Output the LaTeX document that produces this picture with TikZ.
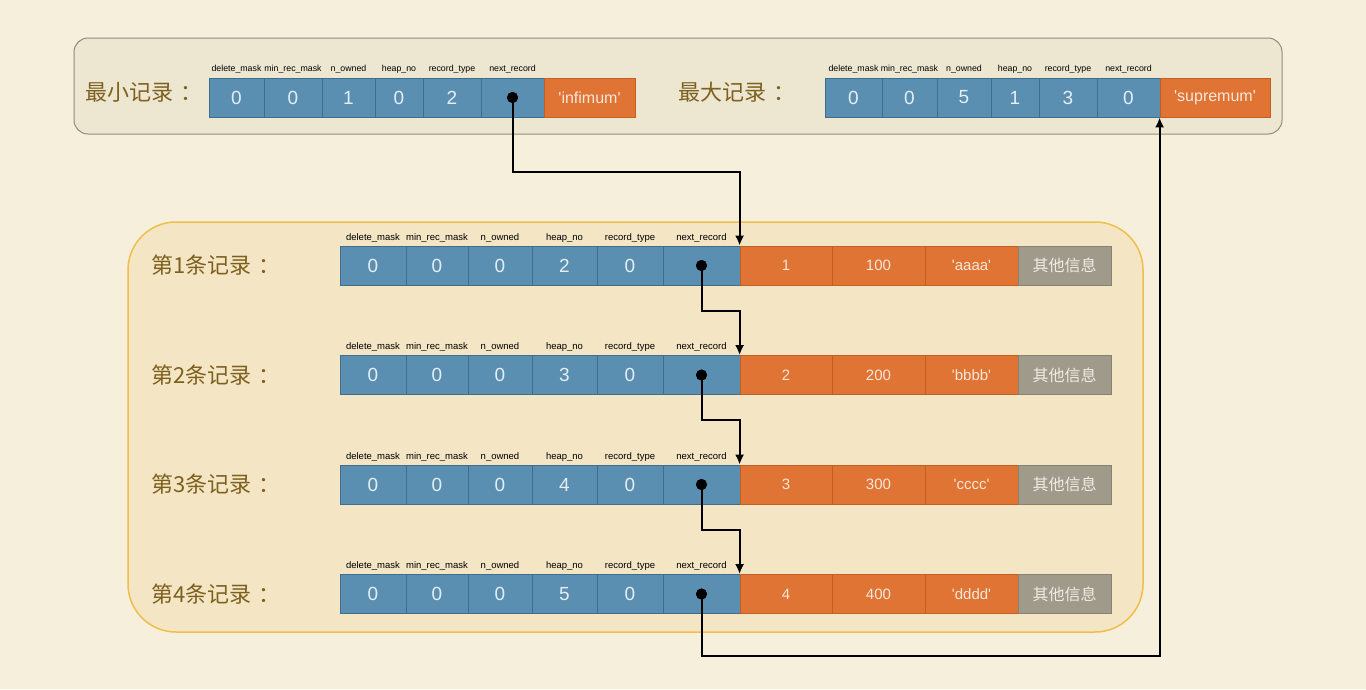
\documentclass[tikz,border=0pt]{standalone}
\usepackage{fontspec}
\setmainfont{Liberation Sans}
\newfontfamily\cjk{Noto Sans CJK SC}
\usetikzlibrary{positioning}
\usetikzlibrary{arrows.meta}

\definecolor{pagebg}{HTML}{F5EFDB}
\definecolor{topbox}{HTML}{EDE7D2}
\definecolor{topline}{HTML}{8F8B80}
\definecolor{lowbox}{HTML}{F4E6C4}
\definecolor{lowline}{HTML}{F0BE4C}
\definecolor{labelbrown}{HTML}{7E601E}
\definecolor{cblue}{HTML}{5A8FB1}
\definecolor{cblueline}{HTML}{3F6E8D}
\definecolor{cbluetext}{HTML}{E6EEF3}
\definecolor{corange}{HTML}{E07434}
\definecolor{corangeline}{HTML}{C45F24}
\definecolor{corangetext}{HTML}{F8E7DA}
\definecolor{cgray}{HTML}{A09A8B}
\definecolor{cgrayline}{HTML}{878272}
\definecolor{cgraytext}{HTML}{F0ECE4}

\newcommand{\sq}{\textquotesingle}
\newcommand{\lcolon}{\hspace{0.35em}：}

\begin{document}
\begin{tikzpicture}[
    x=1pt, y=-1pt,
    >={Latex[length=10pt,width=9pt]},
    lbl/.style={font=\cjk\fontsize{22}{22}\selectfont, text=labelbrown},
    cell/.style={draw, line width=0.8pt, minimum height=39pt, inner sep=0pt},
    bcell/.style={cell, fill=cblue, draw=cblueline, text=cbluetext, font=\fontsize{19}{19}\selectfont},
    ocell/.style={cell, fill=corange, draw=corangeline, text=corangetext, font=\fontsize{15}{15}\selectfont},
    gcell/.style={cell, fill=cgray, draw=cgrayline, text=cgraytext, font=\cjk\fontsize{16}{16}\selectfont},
    hdr/.style={font=\fontsize{9.5}{9.5}\selectfont, inner sep=0pt, text height=7pt, text depth=2pt},
    hdrtop/.style={hdr, font=\fontsize{8.8}{8.8}\selectfont},
    dot/.style={circle, fill=black, inner sep=0pt, minimum size=11pt},
    link/.style={->, line width=2pt}
]
\useasboundingbox[fill=pagebg] (0,0) rectangle (1366,689);

% frames
\draw[fill=topbox, draw=topline, line width=1pt, rounded corners=14pt] (74,38) rectangle (1282,134);
\draw[fill=lowbox, draw=lowline, line width=1.5pt, rounded corners=48pt] (128,222) rectangle (1143,632);

% infimum
\node[lbl] (labmin) at (144,92) {最小记录\lcolon};
\foreach \a/\b/\tx [count=\i] in {209/264/0,264/322/0,322/375/1,375/423/0,423/481/2,481/544/}
  \node[bcell, minimum width={(\b-\a)*1pt}] (i-\i) at ({(\a+\b)/2},97.5) {\tx};
\node[ocell, minimum width=91pt, font=\fontsize{16}{16}\selectfont] (i-7) at (589.5,97.5) {\sq infimum\sq};
\foreach \tx [count=\i] in {delete\_mask,min\_rec\_mask,n\_owned,heap\_no,record\_type,next\_record}
  \node[hdrtop, above=4pt of i-\i] (ih-\i) {\tx};
\node[dot] (d0) at (i-6) {};

% supremum
\node[lbl] (labmax) at (737,92) {最大记录\lcolon};
\foreach \a/\b/\tx [count=\i] in {825/882/0,882/937/0,937/991/5,991/1039/1,1039/1097/3,1097/1160/0}
  \node[bcell, minimum width={(\b-\a)*1pt}] (s-\i) at ({(\a+\b)/2},97.5) {\tx};
\node[ocell, minimum width=110pt, font=\fontsize{16}{16}\selectfont] (s-7) at (1215,97.5) {\sq supremum\sq};
\foreach \tx [count=\i] in {delete\_mask,min\_rec\_mask,n\_owned,heap\_no,record\_type,next\_record}
  \node[hdrtop, above=4pt of s-\i] (sh-\i) {\tx};

% user records
\foreach \rw/\yy/\hn/\nv/\vv/\sv in {1/265.5/2/1/100/aaaa,2/375/3/2/200/bbbb,3/484.5/4/3/300/cccc,4/594/5/4/400/dddd}{
  \node[lbl] (lab\rw) at (216,\yy) {第\rw{}条记录\lcolon};
  \foreach \a/\b/\tx [count=\i] in {340/406/0,406/468/0,468/532/0,532/597/\hn,597/663/0,663/740/}
    \node[bcell, minimum width={(\b-\a)*1pt}] (r\rw-\i) at ({(\a+\b)/2},\yy) {\tx};
  \node[ocell, minimum width=92pt] (r\rw-7) at (786,\yy) {\nv};
  \node[ocell, minimum width=93pt] (r\rw-8) at (878.5,\yy) {\vv};
  \node[ocell, minimum width=93pt] (r\rw-9) at (971.5,\yy) {\sq\sv\sq};
  \node[gcell, minimum width=93pt] (r\rw-10) at (1064.5,\yy) {其他信息};
  \foreach \tx [count=\i] in {delete\_mask,min\_rec\_mask,n\_owned,heap\_no,record\_type,next\_record}
    \node[hdr, above=3pt of r\rw-\i] (h\rw-\i) {\tx};
  \node[dot] (d\rw) at (r\rw-6) {};
}

% next_record links
\draw[link] (d0.center) -- ++(0,74) -| (r1-7.north west);
\foreach \p/\q in {1/2,2/3,3/4}
  \draw[link] (d\p.center) -- ++(0,45) -| (r\q-7.north west);
\draw[link] (d4.center) -- ++(0,62) -| (s-7.south west);
\foreach \k in {0,...,4}
  \node[dot] at (d\k) {};
\end{tikzpicture}
\end{document}
